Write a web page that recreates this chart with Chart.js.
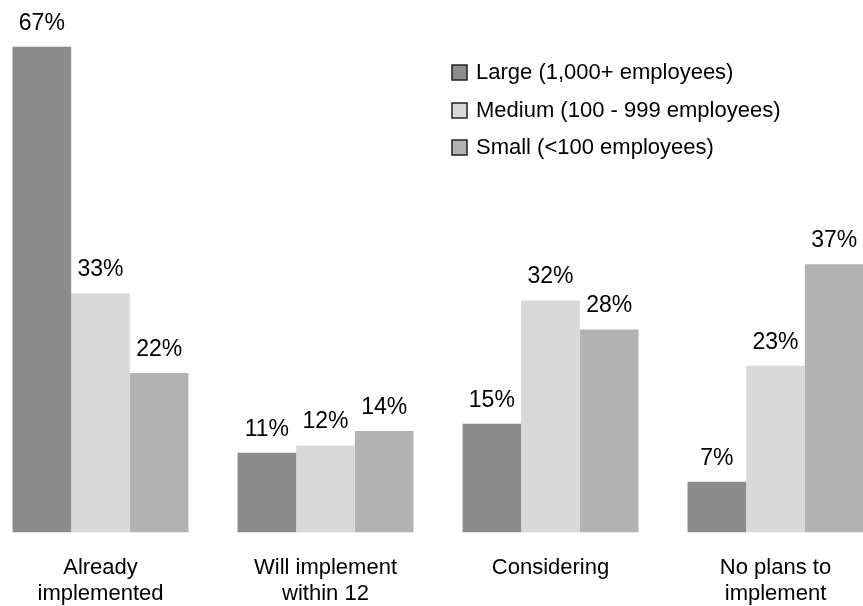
<!DOCTYPE html>
<html>
<head>
<meta charset="utf-8">
<script src="https://cdn.jsdelivr.net/npm/chart.js@4/dist/chart.umd.min.js"></script>
<style>
  html, body { margin: 0; padding: 0; background: #fff; overflow: hidden; width: 863px; height: 606px; }
  #wrap { position: absolute; left: -12px; top: 0; width: 900px; height: 647px; }
</style>
</head>
<body>
<div id="wrap"><canvas id="chart"></canvas></div>
<script>
// adoption by company size
var categories = [
    ['Already', 'implemented'],
    ['Will implement', 'within 12', 'months'],
    ['Considering'],
    ['No plans to', 'implement']
];
var seriesNames = ['Large (1,000+ employees)', 'Medium (100 - 999 employees)', 'Small (<100 employees)'];
var large = [67, 11, 15, 7];
var medium = [33, 12, 32, 23];
var small = [22, 14, 28, 37];
var colors = ['#8c8c8c', '#d9d9d9', '#b3b3b3'];

var FONT = '"Liberation Sans", Arial, sans-serif';

// percent labels above each bar
var valueLabels = {
    id: 'valueLabels',
    afterDatasetsDraw: function(chart) {
        var ctx = chart.ctx;
        ctx.save();
        ctx.font = '23px ' + FONT;
        ctx.fillStyle = '#000';
        ctx.textAlign = 'center';
        ctx.textBaseline = 'alphabetic';
        chart.data.datasets.forEach(function(ds, i) {
            chart.getDatasetMeta(i).data.forEach(function(bar, j) {
                ctx.fillText(ds.data[j] + '%', bar.x, bar.y - 17);
            });
        });
        ctx.restore();
    }
};

// legend block inside the plot, top right
var boxLegend = {
    id: 'boxLegend',
    afterDraw: function(chart) {
        var ctx = chart.ctx;
        var x = 464, y = 72, step = 37.5, box = 15;
        ctx.save();
        ctx.font = '22px ' + FONT;
        ctx.textBaseline = 'middle';
        chart.data.datasets.forEach(function(ds, i) {
            var cy = Math.round(y + i * step);
            ctx.fillStyle = ds.backgroundColor;
            ctx.fillRect(x, cy - 7, box, box);
            ctx.strokeStyle = '#222';
            ctx.lineWidth = 1.5;
            ctx.strokeRect(x, cy - 7, box, box);
            ctx.fillStyle = '#000';
            ctx.fillText(ds.label, x + 24, cy + 1);
        });
        ctx.restore();
    }
};

var datasets = [large, medium, small].map(function(vals, i) {
    return {
        label: seriesNames[i],
        data: vals,
        backgroundColor: colors[i],
        borderWidth: 0,
        barPercentage: 1.0,
        categoryPercentage: 0.782
    };
});

new Chart(document.getElementById('chart'), {
    type: 'bar',
    data: { labels: categories, datasets: datasets },
    options: {
        responsive: true,
        maintainAspectRatio: false,
        animation: false,
        layout: { padding: { top: 25, left: 0, right: 0, bottom: 0 } },
        plugins: {
            legend: { display: false },
            tooltip: { enabled: false }
        },
        scales: {
            x: {
                grid: { display: false },
                border: { display: false },
                ticks: {
                    color: '#000',
                    padding: 14,
                    maxRotation: 0,
                    autoSkip: false,
                    font: { family: FONT, size: 22, lineHeight: 1.19 }
                }
            },
            y: {
                display: false,
                min: 0,
                max: 70
            }
        }
    },
    plugins: [valueLabels, boxLegend]
});
</script>
</body>
</html>
